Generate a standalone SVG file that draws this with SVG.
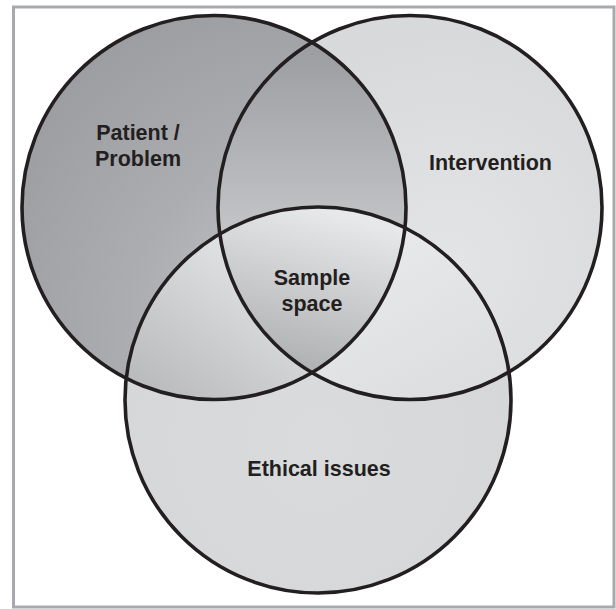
<svg xmlns="http://www.w3.org/2000/svg" width="616" height="609" viewBox="0 0 616 609">
  <style>
    .outline { fill: none; stroke: #231f20; stroke-width: 3.6; }
    .label { font-family: "Liberation Sans", Arial, sans-serif; font-weight: bold; font-size: 21.5px; fill: #231f20; text-anchor: middle; }
  </style>
  <defs>
    <clipPath id="clipP"><circle cx="214" cy="207.5" r="192"/></clipPath>
    <clipPath id="clipI"><circle cx="410" cy="207.5" r="192"/></clipPath>
    <radialGradient id="gP" gradientUnits="userSpaceOnUse" cx="320" cy="330" r="380">
      <stop offset="0" stop-color="#c8c9cb"/>
      <stop offset="0.5" stop-color="#acadb0"/>
      <stop offset="1" stop-color="#9a9b9e"/>
    </radialGradient>
    <radialGradient id="gI" gradientUnits="userSpaceOnUse" cx="450" cy="260" r="230">
      <stop offset="0" stop-color="#e3e4e5"/>
      <stop offset="1" stop-color="#d8d9db"/>
    </radialGradient>
    <radialGradient id="gE" gradientUnits="userSpaceOnUse" cx="318" cy="440" r="200">
      <stop offset="0" stop-color="#dadbdd"/>
      <stop offset="1" stop-color="#d6d7d9"/>
    </radialGradient>
    <linearGradient id="gPI" gradientUnits="userSpaceOnUse" x1="312" y1="50" x2="312" y2="260">
      <stop offset="0" stop-color="#9d9ea1"/>
      <stop offset="1" stop-color="#c9cacc"/>
    </linearGradient>
    <linearGradient id="gPE" gradientUnits="userSpaceOnUse" x1="250" y1="250" x2="150" y2="390">
      <stop offset="0" stop-color="#e2e3e4"/>
      <stop offset="1" stop-color="#babbbd"/>
    </linearGradient>
    <linearGradient id="gIE" gradientUnits="userSpaceOnUse" x1="370" y1="240" x2="450" y2="390">
      <stop offset="0" stop-color="#e8e9ea"/>
      <stop offset="1" stop-color="#dddee0"/>
    </linearGradient>
    <linearGradient id="gC" gradientUnits="userSpaceOnUse" x1="340" y1="215" x2="300" y2="370">
      <stop offset="0" stop-color="#e7e8e9"/>
      <stop offset="1" stop-color="#afb0b2"/>
    </linearGradient>
  </defs>

  <rect x="13.5" y="7" width="600.5" height="600" fill="#ffffff" stroke="#a7a9ac" stroke-width="3"/>

  <g id="region-fills">
    <circle cx="318" cy="400" r="193" fill="url(#gE)"/>
    <circle cx="410" cy="207.5" r="192" fill="url(#gI)"/>
    <circle cx="214" cy="207.5" r="192" fill="url(#gP)"/>
    <g clip-path="url(#clipP)">
      <circle cx="410" cy="207.5" r="192" fill="url(#gPI)"/>
      <circle cx="318" cy="400" r="193" fill="url(#gPE)"/>
    </g>
    <g clip-path="url(#clipI)">
      <circle cx="318" cy="400" r="193" fill="url(#gIE)"/>
      <g clip-path="url(#clipP)">
        <circle cx="318" cy="400" r="193" fill="url(#gC)"/>
      </g>
    </g>
  </g>

  <g id="node-patient">
    <circle class="outline" cx="214" cy="207.5" r="192"/>
    <text class="label" x="138" y="140">Patient /</text>
    <text class="label" x="138" y="166">Problem</text>
  </g>
  <g id="node-intervention">
    <circle class="outline" cx="410" cy="207.5" r="192"/>
    <text class="label" x="490.5" y="170">Intervention</text>
  </g>
  <g id="node-ethical">
    <circle class="outline" cx="318" cy="400" r="193"/>
    <text class="label" x="319" y="476">Ethical issues</text>
  </g>
  <g id="node-sample">
    <text class="label" x="312" y="285">Sample</text>
    <text class="label" x="312" y="311">space</text>
  </g>
  <g id="connectors"></g>
</svg>
